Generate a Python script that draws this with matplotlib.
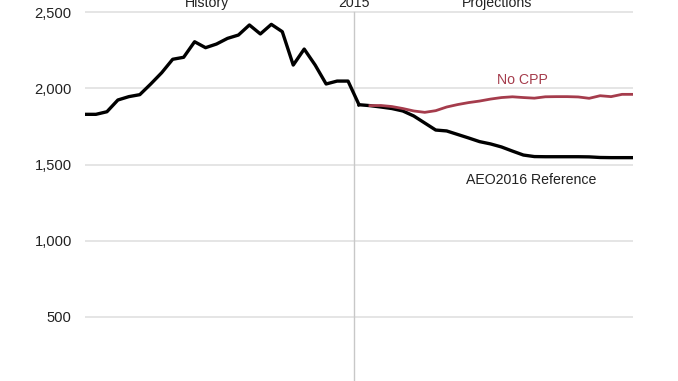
import matplotlib
matplotlib.use("Agg")
import matplotlib.pyplot as plt

# electric power sector CO2 emissions (million metric tons)
hist_years = list(range(1990, 2016))
history = [1829, 1829, 1846, 1923, 1945, 1958, 2028, 2102, 2190, 2203,
           2305, 2266, 2290, 2327, 2349, 2415, 2356, 2419, 2371, 2152,
           2257, 2152, 2028, 2047, 2047, 1892]

ref_years = list(range(2015, 2041))
reference = [1892, 1886, 1877, 1867, 1851, 1818, 1772, 1726, 1720, 1697,
             1674, 1650, 1635, 1615, 1588, 1562, 1552, 1551, 1551, 1551,
             1551, 1550, 1546, 1545, 1545, 1545]

nocpp_years = list(range(2016, 2041))
no_cpp = [1886, 1887, 1880, 1867, 1851, 1842, 1853, 1877, 1893, 1906,
          1916, 1929, 1939, 1944, 1939, 1935, 1944, 1945, 1945, 1943,
          1934, 1951, 1945, 1960, 1960]

yticks = [0, 500, 1000, 1500, 2000, 2500]
ytick_labels = ["0", "500", "1,000", "1,500", "2,000", "2,500"]

plt.rcParams['font.family'] = ['Liberation Sans', 'DejaVu Sans']
red = '#a53c4c'
fs = 10.2

W, H = 678, 381
fig = plt.figure(figsize=(W / 100, H / 100), dpi=100)
# axes reaches below the picture edge, the way the source was cropped
y0_px = 393.25          # pixel row of value 0 (from top)
px_per_unit = 76.25 / 500
ytop = 2560
top_px = y0_px - ytop * px_per_unit
ax = fig.add_axes([85 / W, (H - y0_px) / H, 548 / W, (y0_px - top_px) / H])
ax.set_xlim(1990, 2040)
ax.set_ylim(0, ytop)

for s in ax.spines.values():
    s.set_visible(False)
ax.set_xticks([])
ax.set_yticks(yticks)
ax.set_yticklabels(ytick_labels, fontsize=10.6, color='#222222')
ax.tick_params(axis='y', length=0, pad=9.5)
ax.grid(axis='y', color='#dedede', linewidth=1.1)
ax.set_axisbelow(True)

ax.plot([2014.5, 2014.5], [0, 2500], color='#c8c8c8', linewidth=1.0, zorder=1)

ax.plot(hist_years, history, color='black', linewidth=2.4, zorder=3)
ax.plot(ref_years, reference, color='black', linewidth=2.4, zorder=3)
ax.plot(nocpp_years, no_cpp, color=red, linewidth=2.0, zorder=4)

ax.text(2001.1, 2533, "History", ha='center', va='baseline', fontsize=fs, color='#222222')
ax.text(2014.5, 2533, "2015", ha='center', va='baseline', fontsize=fs, color='#222222')
ax.text(2027.6, 2533, "Projections", ha='center', va='baseline', fontsize=fs, color='#222222')
ax.text(2029.9, 2054, "No CPP", ha='center', va='center', fontsize=fs, color=red)
ax.text(2030.7, 1398, "AEO2016 Reference", ha='center', va='center', fontsize=fs, color='#222222')

fig.savefig("out.png", dpi=100)
